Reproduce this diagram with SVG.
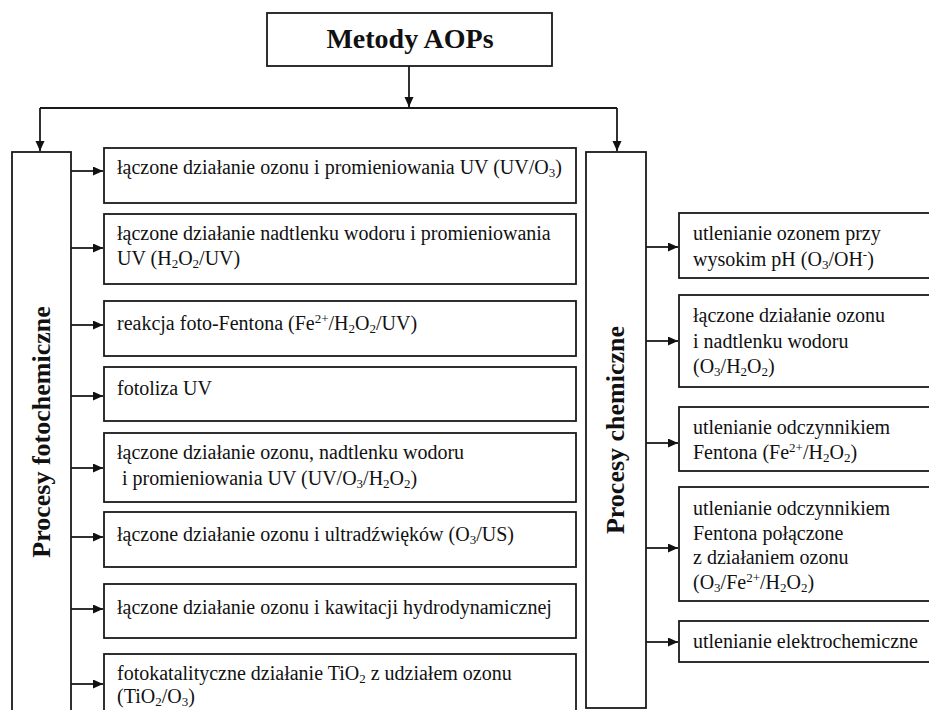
<svg xmlns="http://www.w3.org/2000/svg" width="929" height="710" viewBox="0 0 929 710">
<defs>
<marker id="ah" markerUnits="userSpaceOnUse" markerWidth="11" markerHeight="10" refX="10" refY="4.5" orient="auto">
<path d="M0,0 L10,4.5 L0,9 z" fill="#111"/>
</marker>
<style>
.box{fill:#fff;stroke:#1a1a1a;stroke-width:1.8}
.t{font-family:"Liberation Serif","Times New Roman",serif;font-size:20px;fill:#111}
.title{font-family:"Liberation Serif","Times New Roman",serif;font-size:28px;font-weight:bold;fill:#111}
.vt{font-family:"Liberation Serif","Times New Roman",serif;font-size:26px;font-weight:bold;fill:#111}
.c{fill:none;stroke:#1a1a1a;stroke-width:1.8}
.a{fill:none;stroke:#1a1a1a;stroke-width:1.8;marker-end:url(#ah)}
.sb{font-size:13px;baseline-shift:-3px}
.sp{font-size:13px;baseline-shift:7px}
</style>
</defs>
<rect width="929" height="710" fill="#fff"/>

<g id="connectors">
<line class="a" x1="409" y1="66" x2="409" y2="107"/>
<line class="c" x1="40" y1="108" x2="617" y2="108"/>
<line class="a" x1="40" y1="108" x2="40" y2="151"/>
<line class="a" x1="617" y1="108" x2="617" y2="151"/>
<line class="a" x1="71" y1="171" x2="103" y2="171"/>
<line class="a" x1="71" y1="248" x2="103" y2="248"/>
<line class="a" x1="71" y1="325" x2="103" y2="325"/>
<line class="a" x1="71" y1="396" x2="103" y2="396"/>
<line class="a" x1="71" y1="468" x2="103" y2="468"/>
<line class="a" x1="71" y1="537" x2="103" y2="537"/>
<line class="a" x1="71" y1="609" x2="103" y2="609"/>
<line class="a" x1="71" y1="684" x2="103" y2="684"/>
<line class="a" x1="646" y1="247" x2="678" y2="247"/>
<line class="a" x1="646" y1="341" x2="678" y2="341"/>
<line class="a" x1="646" y1="443" x2="678" y2="443"/>
<line class="a" x1="646" y1="548" x2="678" y2="548"/>
<line class="a" x1="646" y1="642" x2="678" y2="642"/>
</g>

<g id="metody">
<rect class="box" x="267" y="13" width="285" height="53"/>
<text class="title" x="410" y="48" text-anchor="middle">Metody AOPs</text>
</g>

<g id="fotochem">
<rect class="box" x="12" y="152" width="59" height="570"/>
<text class="vt" transform="translate(50,432) rotate(-90)" text-anchor="middle">Procesy fotochemiczne</text>
</g>

<g id="chem">
<rect class="box" x="586" y="152" width="60" height="556"/>
<text class="vt" transform="translate(624,430) rotate(-90)" text-anchor="middle">Procesy chemiczne</text>
</g>

<g id="f1">
<rect class="box" x="104" y="148" width="472" height="55"/>
<text class="t" x="117" y="174">łączone działanie ozonu i promieniowania UV (UV/O<tspan class="sb">3</tspan>)</text>
</g>
<g id="f2">
<rect class="box" x="104" y="214" width="472" height="70"/>
<text class="t" x="117" y="240">łączone działanie nadtlenku wodoru i promieniowania</text>
<text class="t" x="117" y="265">UV (H<tspan class="sb">2</tspan>O<tspan class="sb">2</tspan>/UV)</text>
</g>
<g id="f3">
<rect class="box" x="104" y="301" width="472" height="55"/>
<text class="t" x="117" y="330">reakcja foto-Fentona (Fe<tspan class="sp">2+</tspan>/H<tspan class="sb">2</tspan>O<tspan class="sb">2</tspan>/UV)</text>
</g>
<g id="f4">
<rect class="box" x="104" y="367" width="472" height="54"/>
<text class="t" x="117" y="395">fotoliza UV</text>
</g>
<g id="f5">
<rect class="box" x="104" y="433" width="472" height="69"/>
<text class="t" x="117" y="459">łączone działanie ozonu, nadtlenku wodoru</text>
<text class="t" x="122" y="485">i promieniowania UV (UV/O<tspan class="sb">3</tspan>/H<tspan class="sb">2</tspan>O<tspan class="sb">2</tspan>)</text>
</g>
<g id="f6">
<rect class="box" x="104" y="512" width="472" height="55"/>
<text class="t" x="117" y="541">łączone działanie ozonu i ultradźwięków (O<tspan class="sb">3</tspan>/US)</text>
</g>
<g id="f7">
<rect class="box" x="104" y="584" width="472" height="54"/>
<text class="t" x="117" y="614">łączone działanie ozonu i kawitacji hydrodynamicznej</text>
</g>
<g id="f8">
<rect class="box" x="104" y="654" width="472" height="70"/>
<text class="t" x="117" y="680">fotokatalityczne działanie TiO<tspan class="sb">2</tspan> z udziałem ozonu</text>
<text class="t" x="117" y="703">(TiO<tspan class="sb">2</tspan>/O<tspan class="sb">3</tspan>)</text>
</g>

<g id="c1">
<rect class="box" x="679" y="213" width="262" height="65"/>
<text class="t" x="693" y="240">utlenianie ozonem przy</text>
<text class="t" x="693" y="266">wysokim pH (O<tspan class="sb">3</tspan>/OH<tspan class="sp">-</tspan>)</text>
</g>
<g id="c2">
<rect class="box" x="679" y="295" width="262" height="92"/>
<text class="t" x="693" y="322">łączone działanie ozonu</text>
<text class="t" x="693" y="348">i nadtlenku wodoru</text>
<text class="t" x="693" y="373">(O<tspan class="sb">3</tspan>/H<tspan class="sb">2</tspan>O<tspan class="sb">2</tspan>)</text>
</g>
<g id="c3">
<rect class="box" x="679" y="407" width="262" height="64"/>
<text class="t" x="693" y="434">utlenianie odczynnikiem</text>
<text class="t" x="693" y="459">Fentona (Fe<tspan class="sp">2+</tspan>/H<tspan class="sb">2</tspan>O<tspan class="sb">2</tspan>)</text>
</g>
<g id="c4">
<rect class="box" x="679" y="487" width="262" height="114"/>
<text class="t" x="693" y="515">utlenianie odczynnikiem</text>
<text class="t" x="693" y="540">Fentona połączone</text>
<text class="t" x="693" y="564">z działaniem ozonu</text>
<text class="t" x="693" y="589">(O<tspan class="sb">3</tspan>/Fe<tspan class="sp">2+</tspan>/H<tspan class="sb">2</tspan>O<tspan class="sb">2</tspan>)</text>
</g>
<g id="c5">
<rect class="box" x="679" y="621" width="262" height="41"/>
<text class="t" x="693" y="648">utlenianie elektrochemiczne</text>
</g>
</svg>
